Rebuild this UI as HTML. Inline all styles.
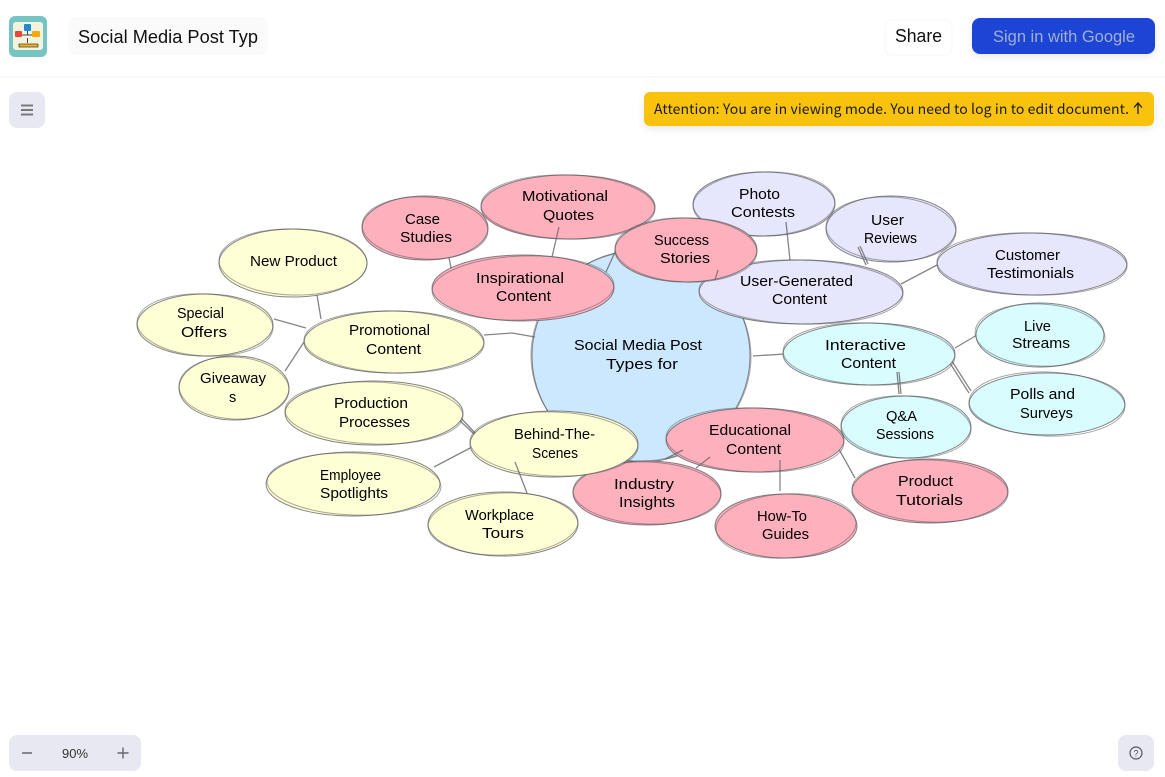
<!DOCTYPE html>
<html><head><meta charset="utf-8"><title>Social Media Post Types</title>
<style>
html,body{margin:0;padding:0;background:#fff;width:1165px;height:777px;overflow:hidden}
svg{display:block;position:absolute;left:0;top:0}
.n ellipse{stroke:#5c5c60;stroke-width:1;stroke-opacity:.75}
.n ellipse+ellipse{fill:none;stroke-opacity:.55}
.y ellipse:first-child{fill:#ffffd6}
.p ellipse:first-child{fill:#ffb0bd}
.v ellipse:first-child{fill:#e6e6fc}
.c ellipse:first-child{fill:#d9fcff}
.b ellipse:first-child{fill:#cbe8ff}
.e line{stroke:#66666a;stroke-width:1.3;stroke-opacity:.8}
.t text{font-family:"Liberation Sans",sans-serif;font-size:14.5px;fill:#000}
.u{font-family:"Liberation Sans",sans-serif}
.j{font-family:"Noto Sans CJK JP","Liberation Sans",sans-serif}
</style></head><body>
<svg width="1165" height="777" viewBox="0 0 1165 777" xmlns="http://www.w3.org/2000/svg">
<defs><filter id="s" x="-20%" y="-40%" width="140%" height="200%"><feDropShadow dx="0" dy="3" stdDeviation="4" flood-color="#000" flood-opacity=".09"/></filter></defs>
<rect width="1165" height="777" fill="#fff"/>
<line x1="0" y1="77" x2="1165" y2="77" stroke="#f1f1f3"/>

<!-- logo -->
<rect x="9" y="16" width="38" height="41" rx="6" fill="#76c4c2"/>
<rect x="13" y="22" width="30" height="28" rx="3" fill="#f3f3dd"/>
<path d="M27.500 31V35M19 35H36M19 35V37M36 35V37M27.500 38V43" stroke="#444" fill="none"/>
<rect x="24" y="24" width="7" height="7" rx="1" fill="#1f88d8"/>
<rect x="15" y="31" width="7" height="6" rx="1" fill="#e8463c"/>
<rect x="32" y="31" width="8" height="6" rx="1" fill="#f6a80f"/>
<rect x="19" y="44" width="19" height="3" fill="#f5b21a" stroke="#333" stroke-width=".7"/>

<!-- header -->
<rect x="68" y="17" width="200" height="38" rx="8" fill="#fafafa"/>
<text class="u" x="78" y="43" font-size="18" fill="#111" textLength="180" lengthAdjust="spacingAndGlyphs">Social Media Post Typ</text>
<rect x="885" y="20" width="67" height="35" rx="7" fill="#fff" stroke="#f7f7f7"/>
<text class="u" x="895" y="42" font-size="18" fill="#111" textLength="47" lengthAdjust="spacingAndGlyphs">Share</text>
<rect x="972" y="18" width="183" height="36" rx="8" fill="#1d45d6" filter="url(#s)"/>
<text class="u" x="993" y="42" font-size="17" fill="#a3aed0" textLength="142" lengthAdjust="spacingAndGlyphs">Sign in with Google</text>

<!-- sidebar -->
<rect x="9" y="92" width="36" height="36" rx="8" fill="#e8e8f2"/>
<path d="M21 105.500H33M21 110H33M21 114.500H33" stroke="#77777c" stroke-width="2"/>

<!-- notice -->
<rect x="644" y="92" width="510" height="34" rx="6" fill="#f9c30f" filter="url(#s)"/>
<text class="j" x="654" y="114" font-size="14" fill="#1a1a1a" textLength="475">Attention: You are in viewing mode. You need to log in to edit document.</text>
<path d="M1138 114V103.500M1134 107.500L1138 103L1142 107.500" stroke="#1a1a1a" stroke-width="1.300" fill="none"/>

<!-- center -->
<g class="n b"><ellipse cx="641" cy="356" rx="109" ry="106"/><ellipse cx="641" cy="356" rx="110" ry="105" transform="rotate(4 641 356)"/></g>

<!-- connectors -->
<g class="e">
<line x1="484" y1="335" x2="512" y2="333"/><line x1="512" y1="333" x2="535" y2="337"/>
<line x1="753" y1="356" x2="785" y2="354"/>
<line x1="447" y1="247" x2="451" y2="268"/>
<line x1="606" y1="272" x2="616" y2="250"/>
<line x1="317" y1="295" x2="321" y2="319"/>
<line x1="274" y1="319" x2="306" y2="328"/>
<line x1="285" y1="371" x2="304" y2="342"/>
<line x1="901" y1="284" x2="937" y2="265"/>
<line x1="955" y1="348" x2="977" y2="335"/>
<line x1="950" y1="358" x2="971" y2="391"/><line x1="948" y1="360" x2="969" y2="393"/>
<line x1="457" y1="418" x2="474" y2="434"/><line x1="459" y1="416" x2="475" y2="433"/>
<line x1="434" y1="467" x2="472" y2="447"/>
<line x1="836" y1="444" x2="855" y2="478"/>
</g>

<!-- nodes -->
<g class="n y"><ellipse cx="293" cy="263" rx="74" ry="34"/><ellipse cx="293" cy="262" rx="74" ry="33" transform="rotate(1.500 293 262)"/></g>
<g class="n y"><ellipse cx="205" cy="325" rx="68" ry="31"/><ellipse cx="205" cy="325" rx="68" ry="31" transform="rotate(3 205 325)"/></g>
<g class="n y"><ellipse cx="234" cy="388" rx="55" ry="32"/><ellipse cx="234" cy="388" rx="55" ry="31" transform="rotate(3 234 388)"/></g>
<g class="n y"><ellipse cx="394" cy="342" rx="90" ry="31"/><ellipse cx="394" cy="342" rx="90" ry="31" transform="rotate(1.500 394 342)"/></g>
<g class="n y"><ellipse cx="374" cy="413" rx="89" ry="32"/><ellipse cx="374" cy="413" rx="89" ry="31" transform="rotate(2 374 413)"/></g>
<g class="n y"><ellipse cx="353" cy="484" rx="87" ry="32"/><ellipse cx="354" cy="484" rx="87" ry="31" transform="rotate(2 354 484)"/></g>
<g class="n y"><ellipse cx="503" cy="524" rx="75" ry="32"/><ellipse cx="503" cy="524" rx="75" ry="31" transform="rotate(-2 503 524)"/></g>
<g class="n p"><ellipse cx="647" cy="493" rx="74" ry="32"/><ellipse cx="647" cy="493" rx="74" ry="31" transform="rotate(2 647 493)"/></g>
<g class="n y"><ellipse cx="554" cy="444" rx="84" ry="33"/><ellipse cx="554" cy="444" rx="84" ry="32" transform="rotate(2 554 444)"/></g>
<g class="n c"><ellipse cx="906" cy="427" rx="65" ry="31"/><ellipse cx="906" cy="427" rx="65" ry="31" transform="rotate(3 906 427)"/></g>
<g class="n p"><ellipse cx="786" cy="526" rx="71" ry="32"/><ellipse cx="786" cy="526" rx="70" ry="32" transform="rotate(-3 786 526)"/></g>
<g class="n p"><ellipse cx="930" cy="491" rx="78" ry="32"/><ellipse cx="930" cy="491" rx="78" ry="31" transform="rotate(2 930 491)"/></g>
<g class="n p"><ellipse cx="755" cy="440" rx="89" ry="32"/><ellipse cx="755" cy="440" rx="89" ry="32" transform="rotate(2 755 440)"/></g>
<g class="n c"><ellipse cx="1040" cy="335" rx="64" ry="32"/><ellipse cx="1040" cy="335" rx="65" ry="31" transform="rotate(3 1040 335)"/></g>
<g class="n c"><ellipse cx="1047" cy="404" rx="78" ry="31"/><ellipse cx="1047" cy="404" rx="78" ry="32" transform="rotate(2 1047 404)"/></g>
<g class="n c"><ellipse cx="869" cy="354" rx="86" ry="31"/><ellipse cx="869" cy="354" rx="86" ry="31" transform="rotate(2 869 354)"/></g>
<g class="n v"><ellipse cx="764" cy="204" rx="71" ry="32"/><ellipse cx="764" cy="204" rx="71" ry="32" transform="rotate(-2 764 204)"/></g>
<g class="n v"><ellipse cx="891" cy="229" rx="65" ry="33"/><ellipse cx="891" cy="229" rx="65" ry="32" transform="rotate(3 891 229)"/></g>
<g class="n v"><ellipse cx="1032" cy="264" rx="95" ry="31"/><ellipse cx="1032" cy="264" rx="95" ry="31" transform="rotate(1.500 1032 264)"/></g>
<g class="n v"><ellipse cx="801" cy="292" rx="102" ry="32"/><ellipse cx="801" cy="292" rx="102" ry="32" transform="rotate(1.500 801 292)"/></g>
<g class="n p"><ellipse cx="425" cy="228" rx="63" ry="32"/><ellipse cx="425" cy="228" rx="63" ry="31" transform="rotate(3 425 228)"/></g>
<g class="n p"><ellipse cx="568" cy="207" rx="87" ry="32"/><ellipse cx="568" cy="207" rx="87" ry="32" transform="rotate(1.500 568 207)"/></g>
<g class="n p"><ellipse cx="523" cy="288" rx="91" ry="33"/><ellipse cx="523" cy="288" rx="91" ry="32" transform="rotate(-2 523 288)"/></g>
<g class="n p"><ellipse cx="686" cy="250" rx="71" ry="32"/><ellipse cx="686" cy="250" rx="71" ry="32" transform="rotate(2 686 250)"/></g>

<!-- connectors drawn over nodes -->
<g class="e">
<line x1="559" y1="227" x2="552" y2="257"/>
<line x1="786" y1="222" x2="790" y2="260"/>
<line x1="860" y1="246" x2="868" y2="264"/><line x1="858" y1="247" x2="866" y2="265"/>
<line x1="897" y1="372" x2="899" y2="394"/><line x1="899" y1="372" x2="901" y2="394"/>
<line x1="780" y1="460" x2="780" y2="491"/>
<line x1="710" y1="457" x2="696" y2="468"/><line x1="683" y1="450" x2="665" y2="459"/>
<line x1="515" y1="462" x2="527" y2="493"/>
<line x1="718" y1="270" x2="715" y2="280"/>
</g>

<!-- labels -->
<g class="t">
<text x="574" y="350" textLength="128" lengthAdjust="spacingAndGlyphs">Social Media Post</text><text x="606" y="369" textLength="72" lengthAdjust="spacingAndGlyphs">Types for</text>
<text x="476" y="283" textLength="88" lengthAdjust="spacingAndGlyphs">Inspirational</text><text x="496" y="301" textLength="55" lengthAdjust="spacingAndGlyphs">Content</text>
<text x="405" y="224" textLength="35" lengthAdjust="spacingAndGlyphs">Case</text><text x="400" y="242" textLength="52" lengthAdjust="spacingAndGlyphs">Studies</text>
<text x="522" y="201" textLength="86" lengthAdjust="spacingAndGlyphs">Motivational</text><text x="543" y="220" textLength="51" lengthAdjust="spacingAndGlyphs">Quotes</text>
<text x="654" y="245" textLength="55" lengthAdjust="spacingAndGlyphs">Success</text><text x="660" y="263" textLength="50" lengthAdjust="spacingAndGlyphs">Stories</text>
<text x="740" y="286" textLength="113" lengthAdjust="spacingAndGlyphs">User-Generated</text><text x="772" y="304" textLength="55" lengthAdjust="spacingAndGlyphs">Content</text>
<text x="739" y="199" textLength="41" lengthAdjust="spacingAndGlyphs">Photo</text><text x="731" y="217" textLength="64" lengthAdjust="spacingAndGlyphs">Contests</text>
<text x="871" y="225" textLength="33" lengthAdjust="spacingAndGlyphs">User</text><text x="864" y="243" textLength="53" lengthAdjust="spacingAndGlyphs">Reviews</text>
<text x="995" y="260" textLength="65" lengthAdjust="spacingAndGlyphs">Customer</text><text x="987" y="278" textLength="87" lengthAdjust="spacingAndGlyphs">Testimonials</text>
<text x="825" y="350" textLength="81" lengthAdjust="spacingAndGlyphs">Interactive</text><text x="841" y="368" textLength="55" lengthAdjust="spacingAndGlyphs">Content</text>
<text x="1024" y="331" textLength="27" lengthAdjust="spacingAndGlyphs">Live</text><text x="1012" y="348" textLength="58" lengthAdjust="spacingAndGlyphs">Streams</text>
<text x="1010" y="399" textLength="65" lengthAdjust="spacingAndGlyphs">Polls and</text><text x="1020" y="418" textLength="53" lengthAdjust="spacingAndGlyphs">Surveys</text>
<text x="886" y="421" textLength="31" lengthAdjust="spacingAndGlyphs">Q&amp;A</text><text x="876" y="439" textLength="58" lengthAdjust="spacingAndGlyphs">Sessions</text>
<text x="709" y="435" textLength="82" lengthAdjust="spacingAndGlyphs">Educational</text><text x="726" y="454" textLength="55" lengthAdjust="spacingAndGlyphs">Content</text>
<text x="898" y="486" textLength="55" lengthAdjust="spacingAndGlyphs">Product</text><text x="896" y="505" textLength="67" lengthAdjust="spacingAndGlyphs">Tutorials</text>
<text x="757" y="521" textLength="50" lengthAdjust="spacingAndGlyphs">How-To</text><text x="762" y="539" textLength="47" lengthAdjust="spacingAndGlyphs">Guides</text>
<text x="614" y="489" textLength="60" lengthAdjust="spacingAndGlyphs">Industry</text><text x="619" y="507" textLength="56" lengthAdjust="spacingAndGlyphs">Insights</text>
<text x="514" y="439" textLength="81" lengthAdjust="spacingAndGlyphs">Behind-The-</text><text x="532" y="458" textLength="46" lengthAdjust="spacingAndGlyphs">Scenes</text>
<text x="465" y="520" textLength="69" lengthAdjust="spacingAndGlyphs">Workplace</text><text x="482" y="538" textLength="42" lengthAdjust="spacingAndGlyphs">Tours</text>
<text x="320" y="480" textLength="61" lengthAdjust="spacingAndGlyphs">Employee</text><text x="320" y="498" textLength="68" lengthAdjust="spacingAndGlyphs">Spotlights</text>
<text x="334" y="408" textLength="74" lengthAdjust="spacingAndGlyphs">Production</text><text x="339" y="427" textLength="71" lengthAdjust="spacingAndGlyphs">Processes</text>
<text x="200" y="383" textLength="66" lengthAdjust="spacingAndGlyphs">Giveaway</text><text x="229" y="402">s</text>
<text x="349" y="335" textLength="81" lengthAdjust="spacingAndGlyphs">Promotional</text><text x="366" y="354" textLength="55" lengthAdjust="spacingAndGlyphs">Content</text>
<text x="177" y="318" textLength="47" lengthAdjust="spacingAndGlyphs">Special</text><text x="181" y="337" textLength="46" lengthAdjust="spacingAndGlyphs">Offers</text>
<text x="250" y="266" textLength="87" lengthAdjust="spacingAndGlyphs">New Product</text>
</g>

<!-- zoom panel -->
<rect x="9" y="735" width="132" height="36" rx="8" fill="#e8e8f2"/>
<path d="M22 753H32M117.500 753H128.500M123 747.500V758.500" stroke="#66666c" stroke-width="1.400"/>
<text class="u" x="62" y="758" font-size="13" fill="#333" textLength="26" lengthAdjust="spacingAndGlyphs">90%</text>

<!-- help -->
<rect x="1118" y="735" width="36" height="36" rx="8" fill="#e8e8f2"/>
<circle cx="1136" cy="753" r="6" fill="none" stroke="#55555a" stroke-width="1.200"/>
<text class="u" x="1136" y="756.500" font-size="9" fill="#55555a" text-anchor="middle">?</text>
</svg>
</body></html>
